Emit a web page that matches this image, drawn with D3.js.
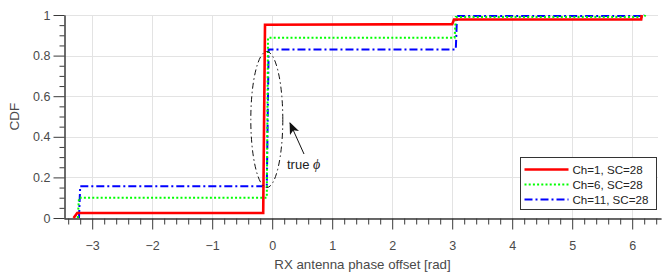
<!DOCTYPE html>
<html>
<head>
<meta charset="utf-8">
<script src="https://cdn.jsdelivr.net/npm/d3@7"></script>
<style>
    body { margin: 0; background: #fff; }
    text { font-family: "Liberation Sans", Arial, sans-serif; }
</style>
</head>
<body>
<div id="chart"></div>
<script>
// Empirical CDF curves, [phase offset (rad), CDF]
const ch1 = [[-3.31, 0], [-3.25, 0.025], [-0.15, 0.025], [-0.12, 0.952], [3.0, 0.955], [3.03, 0.978], [6.15, 0.978], [6.16, 1]];
const ch6 = [[-3.24, 0], [-3.22, 0.1], [-0.09, 0.1], [-0.07, 0.888], [3.04, 0.888], [3.06, 0.99], [6.2, 0.99], [6.22, 1]];
const ch11 = [[-3.22, 0], [-3.2, 0.157], [-0.09, 0.157], [-0.06, 0.83], [3.06, 0.83], [3.08, 0.995], [6.18, 0.995], [6.2, 1]];

const seriesNames = ['Ch=1, SC=28', 'Ch=6, SC=28', 'Ch=11, SC=28'];
const seriesColors = ['#ff0000', '#00ff00', '#0000ff'];
const seriesDashes = [null, '2,2.2', '8,3,2,3'];
const seriesWidths = [2.6, 2, 2];

const xTicks = [-3, -2, -1, 0, 1, 2, 3, 4, 5, 6];
const yTicks = [0, 0.2, 0.4, 0.6, 0.8, 1];

class CdfChart {

    constructor(selector) {
        this.width = 665;
        this.height = 274;

        this.svg = d3.select(selector).append('svg')
            .attr('width', this.width)
            .attr('height', this.height);

        this.x = d3.scaleLinear().domain([-3.47, 6.48]).range([64, 661]);
        this.y = d3.scaleLinear().domain([0, 1]).range([218, 15]);

        this.drawGrid();
        this.drawAxes();
        this.drawCurves();
        this.drawAnnotation();
        this.drawLegend();
    }

    drawGrid() {
        let grid = this.svg.append('g')
            .attr('stroke', '#e3e3e3')
            .attr('stroke-width', 1);
        grid.selectAll('line.vgrid')
            .data(xTicks)
            .join('line')
            .attr('x1', d => Math.round(this.x(d)) + 0.5)
            .attr('x2', d => Math.round(this.x(d)) + 0.5)
            .attr('y1', this.y(0))
            .attr('y2', this.y(1));
        grid.selectAll('line.hgrid')
            .data(yTicks)
            .join('line')
            .attr('y1', d => Math.round(this.y(d)) + 0.5)
            .attr('y2', d => Math.round(this.y(d)) + 0.5)
            .attr('x1', this.x.range()[0])
            .attr('x2', 658);
    }

    drawAxes() {
        let axisColor = '#3a3a3a';
        let labelColor = '#4a4a4a';

        // minor ticks: every 0.2 on x, every 0.05 on y
        let xMinor = d3.range(-3.4, 6.41, 0.2).map(d => +d.toFixed(1)).filter(d => !xTicks.includes(d));
        let yMinor = d3.range(0, 1.001, 0.05).map(d => +d.toFixed(2)).filter(d => !yTicks.includes(d));

        let xAxis = this.svg.append('g')
            .attr('transform', `translate(0,${this.y(0) + 0.5})`)
            .call(d3.axisBottom(this.x).tickValues(xTicks).tickSize(11).tickPadding(12).tickSizeOuter(0)
                .tickFormat(d3.format('d')));
        let xMinorAxis = this.svg.append('g')
            .attr('transform', `translate(0,${this.y(0) + 0.5})`)
            .call(d3.axisBottom(this.x).tickValues(xMinor).tickSize(6).tickFormat('').tickSizeOuter(0));

        let yAxis = this.svg.append('g')
            .attr('transform', `translate(${this.x.range()[0] + 0.5},0)`)
            .call(d3.axisLeft(this.y).tickValues(yTicks).tickSize(11).tickPadding(3).tickSizeOuter(0)
                .tickFormat(d => d === 0 || d === 1 ? d3.format('d')(d) : d3.format('.1f')(d)));
        let yMinorAxis = this.svg.append('g')
            .attr('transform', `translate(${this.x.range()[0] + 0.5},0)`)
            .call(d3.axisLeft(this.y).tickValues(yMinor).tickSize(5).tickFormat('').tickSizeOuter(0));

        for (let g of [xAxis, xMinorAxis, yAxis, yMinorAxis]) {
            g.selectAll('path, line').attr('stroke', axisColor).attr('stroke-width', 1);
            g.selectAll('text')
                .attr('fill', labelColor)
                .style('font-size', '12.5px')
                .style('font-family', '"Liberation Sans", Arial, sans-serif');
        }

        this.svg.append('text')
            .attr('x', (this.x(-3.47) + this.x(6.48)) / 2)
            .attr('y', 269)
            .attr('text-anchor', 'middle')
            .attr('fill', labelColor)
            .style('font-size', '13.3px')
            .text('RX antenna phase offset [rad]');

        this.svg.append('text')
            .attr('transform', `translate(19,${(this.y(0) + this.y(1)) / 2}) rotate(-90)`)
            .attr('text-anchor', 'middle')
            .attr('fill', labelColor)
            .style('font-size', '13.5px')
            .text('CDF');
    }

    drawCurves() {
        let line = d3.line()
            .x(d => this.x(d[0]))
            .y(d => this.y(d[1]));

        let curves = [ch1, ch6, ch11];
        // draw blue first so the red solid line stays on top at the jump
        for (let i of [2, 1, 0]) {
            this.svg.append('path')
                .datum(curves[i])
                .attr('d', line)
                .attr('fill', 'none')
                .attr('stroke', seriesColors[i])
                .attr('stroke-width', seriesWidths[i])
                .attr('stroke-dasharray', seriesDashes[i]);
        }
    }

    drawAnnotation() {
        // dash-dot ellipse around the jump
        this.svg.append('ellipse')
            .attr('cx', this.x(-0.09))
            .attr('cy', this.y(0.485))
            .attr('rx', 16)
            .attr('ry', 68)
            .attr('fill', 'none')
            .attr('stroke', '#111')
            .attr('stroke-width', 1)
            .attr('stroke-dasharray', '6,3,1.5,3');

        let defs = this.svg.append('defs');
        defs.append('marker')
            .attr('id', 'arrowHead')
            .attr('viewBox', '0 0 12 10')
            .attr('refX', 11)
            .attr('refY', 5)
            .attr('markerWidth', 12)
            .attr('markerHeight', 10)
            .attr('markerUnits', 'userSpaceOnUse')
            .attr('orient', 'auto')
            .append('path')
            .attr('d', 'M0,0 L12,5 L0,10 L3,5 Z')
            .attr('fill', '#111');

        this.svg.append('line')
            .attr('x1', 304)
            .attr('y1', 154)
            .attr('x2', 290)
            .attr('y2', 123)
            .attr('stroke', '#111')
            .attr('stroke-width', 1)
            .attr('marker-end', 'url(#arrowHead)');

        let label = this.svg.append('text')
            .attr('x', 287)
            .attr('y', 169)
            .attr('fill', '#222')
            .style('font-size', '13px');
        label.append('tspan').text('true ');
        label.append('tspan')
            .style('font-style', 'italic')
            .style('font-family', '"Liberation Serif", serif')
            .style('font-size', '14px')
            .text('\u03d5');
    }

    drawLegend() {
        let legend = this.svg.append('g')
            .attr('transform', 'translate(520.5,157.5)');
        legend.append('rect')
            .attr('width', 136)
            .attr('height', 52)
            .attr('fill', '#fff')
            .attr('stroke', '#333')
            .attr('stroke-width', 1);

        let rows = legend.selectAll('g.row')
            .data(seriesNames)
            .join('g')
            .attr('transform', (d, i) => `translate(0,${12 + i * 15})`);
        rows.append('line')
            .attr('x1', 4)
            .attr('x2', 48)
            .attr('stroke', (d, i) => seriesColors[i])
            .attr('stroke-width', (d, i) => seriesWidths[i])
            .attr('stroke-dasharray', (d, i) => seriesDashes[i]);
        rows.append('text')
            .attr('x', 52)
            .attr('dy', '0.35em')
            .attr('fill', '#222')
            .style('font-size', '11.6px')
            .text(d => d);
    }
}

new CdfChart('#chart');
</script>
</body>
</html>
